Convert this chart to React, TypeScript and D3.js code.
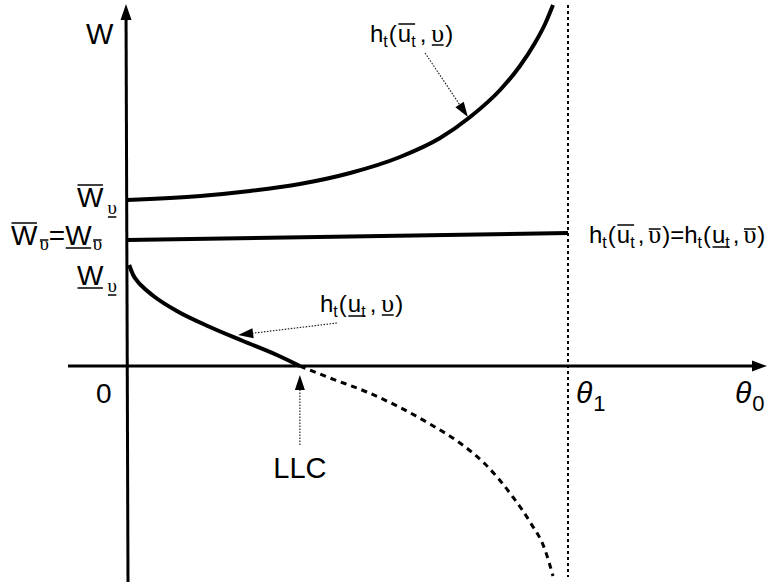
import React, { useEffect, useRef } from "react";
import * as d3 from "d3";

// Upper branch h_t(ū_t, υ̲): rises steeply as θ approaches θ1
const thetaUpper = [0, 0.166, 0.279, 0.392, 0.506, 0.619, 0.71, 0.778, 0.846, 0.891, 0.925, 0.948, 0.966];
const wUpper = [1.66, 1.7, 1.75, 1.82, 1.93, 2.09, 2.28, 2.49, 2.76, 3.0, 3.23, 3.42, 3.61];

// Flat branch h_t(ū_t, ῡ) = h_t(u̲_t, ῡ)
const thetaMid = [0, 1];
const wMid = [1.26, 1.33];

// Lower branch h_t(u̲_t, υ̲) down to the limited-liability constraint
const thetaLow = [0.005, 0.014, 0.025, 0.036, 0.063, 0.113, 0.188, 0.263, 0.34, 0.392];
const wLow = [1.01, 0.91, 0.84, 0.79, 0.69, 0.55, 0.39, 0.25, 0.11, 0];

// Continuation of the lower branch below zero (dashed)
const thetaLowExt = [0.392, 0.46, 0.544, 0.687, 0.755, 0.812, 0.875, 0.914, 0.948, 0.966];
const wLowExt = [0, -0.12, -0.26, -0.58, -0.77, -0.98, -1.31, -1.56, -1.84, -2.1];

const THETA1 = 1;

const SANS = "'Liberation Sans', Arial, Helvetica, sans-serif";
const SERIF = "'Liberation Serif', 'Times New Roman', serif";

type Piece = {
  t: string;
  size: number;
  serif?: boolean;
  italic?: boolean;
  dy?: number;
  gap?: number;
  bar?: { key: string; off: number };
};

function mathLabel(
  g: d3.Selection<SVGGElement, unknown, null, undefined>,
  x: number,
  y: number,
  pieces: Piece[]
) {
  let cx = x;
  const bars: Record<string, { x0: number; x1: number; y: number }> = {};
  pieces.forEach((p) => {
    cx += p.gap || 0;
    const t = g
      .append("text")
      .attr("x", cx)
      .attr("y", y + (p.dy || 0))
      .attr("font-family", p.serif ? SERIF : SANS)
      .attr("font-size", p.size)
      .attr("font-style", p.italic ? "italic" : "normal")
      .attr("fill", "#000")
      .text(p.t);
    const w = (t.node() as SVGTextElement).getComputedTextLength();
    if (p.bar) {
      const b = bars[p.bar.key];
      if (b) {
        b.x1 = cx + w;
      } else {
        bars[p.bar.key] = { x0: cx, x1: cx + w, y: y + p.bar.off };
      }
    }
    cx += w;
  });
  Object.values(bars).forEach((b) => {
    g.append("line")
      .attr("x1", b.x0 + 0.5)
      .attr("x2", b.x1 - 0.5)
      .attr("y1", b.y)
      .attr("y2", b.y)
      .attr("stroke", "#000")
      .attr("stroke-width", 1.5);
  });
}

function arrow(
  g: d3.Selection<SVGGElement, unknown, null, undefined>,
  from: [number, number],
  to: [number, number],
  opts: { len: number; hw: number; width: number; dash?: string; color?: string }
) {
  const dx = to[0] - from[0];
  const dy = to[1] - from[1];
  const d = Math.hypot(dx, dy);
  const ux = dx / d;
  const uy = dy / d;
  const bx = to[0] - ux * opts.len;
  const by = to[1] - uy * opts.len;
  g.append("line")
    .attr("x1", from[0])
    .attr("y1", from[1])
    .attr("x2", bx)
    .attr("y2", by)
    .attr("stroke", opts.color || "#000")
    .attr("stroke-width", opts.width)
    .attr("stroke-dasharray", opts.dash || null);
  g.append("path")
    .attr(
      "d",
      `M${to[0]},${to[1]}L${bx - uy * opts.hw},${by + ux * opts.hw}L${bx + uy * opts.hw},${by - ux * opts.hw}Z`
    )
    .attr("fill", "#000");
}

export default function App() {
  const ref = useRef<SVGSVGElement | null>(null);

  useEffect(() => {
    const svg = d3.select(ref.current);
    svg.selectAll("*").remove();
    const g = svg.append("g");

    const x = d3.scaleLinear().domain([0, 1]).range([127, 568]);
    const y = d3.scaleLinear().domain([0, 1]).range([366, 266]);

    const line = (xs: number[], ws: number[]) =>
      d3
        .line<number>()
        .x((_, i) => x(xs[i]))
        .y((w) => y(w))
        .curve(d3.curveMonotoneX)(ws) as string;

    // θ1 boundary
    g.append("line")
      .attr("x1", x(THETA1))
      .attr("x2", x(THETA1))
      .attr("y1", 5)
      .attr("y2", 577)
      .attr("stroke", "#000")
      .attr("stroke-width", 2)
      .attr("stroke-dasharray", "3,3");

    // axes
    arrow(g, [68, y(0)], [767, y(0)], { len: 15, hw: 5.5, width: 3 });
    arrow(g, [128, 582], [126, 4], { len: 16, hw: 5.5, width: 3 });

    // curves
    g.append("path")
      .attr("d", line(thetaUpper, wUpper))
      .attr("fill", "none")
      .attr("stroke", "#000")
      .attr("stroke-width", 4);
    g.append("path")
      .attr("d", line(thetaMid, wMid))
      .attr("fill", "none")
      .attr("stroke", "#000")
      .attr("stroke-width", 4);
    g.append("path")
      .attr("d", line(thetaLow, wLow))
      .attr("fill", "none")
      .attr("stroke", "#000")
      .attr("stroke-width", 4);
    g.append("path")
      .attr("d", line(thetaLowExt, wLowExt))
      .attr("fill", "none")
      .attr("stroke", "#000")
      .attr("stroke-width", 3)
      .attr("stroke-dasharray", "6,5");

    // pointer arrows
    const thin = { len: 15, hw: 5, width: 1.2, dash: "1.5,1.5", color: "#222" };
    arrow(g, [x(0.676), y(3.13)], [x(0.773), y(2.49)], thin);
    arrow(g, [x(0.476), y(0.43)], [x(0.252), y(0.31)], thin);
    arrow(g, [x(0.392), y(-0.79)], [x(0.392), y(-0.09)], thin);

    // axis labels
    mathLabel(g, 86, 44, [{ t: "W", size: 29 }]);
    mathLabel(g, 96, 403, [{ t: "0", size: 28 }]);
    mathLabel(g, 576, 403, [
      { t: "θ", size: 30, italic: true },
      { t: "1", size: 22, dy: 8, gap: 1 },
    ]);
    mathLabel(g, 735, 403, [
      { t: "θ", size: 30, italic: true },
      { t: "0", size: 22, dy: 8, gap: 1 },
    ]);
    g.append("text")
      .attr("x", x(0.392))
      .attr("y", 478)
      .attr("text-anchor", "middle")
      .attr("font-family", SANS)
      .attr("font-size", 29)
      .text("LLC");

    // W-axis level labels
    const WS = 28;
    const US = 19;
    mathLabel(g, 77, 207, [
      { t: "W", size: WS, bar: { key: "a", off: -22 } },
      { t: "υ", size: US, serif: true, dy: 7, gap: 4, bar: { key: "b", off: 10 } },
    ]);
    mathLabel(g, 11, 245, [
      { t: "W", size: WS, bar: { key: "a", off: -22 } },
      { t: "υ", size: US, serif: true, dy: 5, gap: 2, bar: { key: "b", off: -5 } },
      { t: "=", size: WS, gap: 0 },
      { t: "W", size: WS, gap: 0, bar: { key: "c", off: 3 } },
      { t: "υ", size: US, serif: true, dy: 5, gap: 1, bar: { key: "d", off: -5 } },
    ]);
    mathLabel(g, 77, 285, [
      { t: "W", size: WS, bar: { key: "a", off: 3 } },
      { t: "υ", size: US, serif: true, dy: 7, gap: 4, bar: { key: "b", off: 10 } },
    ]);

    // curve labels
    const S = 24;
    const T = 16;
    const SU = 26;
    mathLabel(g, 370, 42, [
      { t: "h", size: S },
      { t: "t", size: T, dy: 5 },
      { t: "(", size: S, gap: 1 },
      { t: "u", size: S, gap: 1, bar: { key: "a", off: -18 } },
      { t: "t", size: T, dy: 5, bar: { key: "a", off: -18 } },
      { t: ",", size: S, gap: 4 },
      { t: "υ", size: SU, serif: true, gap: 5, bar: { key: "b", off: 3 } },
      { t: ")", size: S, gap: 1 },
    ]);
    mathLabel(g, 589, 243, [
      { t: "h", size: S },
      { t: "t", size: T, dy: 5 },
      { t: "(", size: S, gap: 1 },
      { t: "u", size: S, gap: 1, bar: { key: "a", off: -18 } },
      { t: "t", size: T, dy: 5, bar: { key: "a", off: -18 } },
      { t: ",", size: S, gap: 3 },
      { t: "υ", size: SU, serif: true, gap: 4, bar: { key: "b", off: -14 } },
      { t: ")", size: S, gap: 1 },
      { t: "=", size: S },
      { t: "h", size: S },
      { t: "t", size: T, dy: 5 },
      { t: "(", size: S, gap: 1 },
      { t: "u", size: S, gap: 1, bar: { key: "c", off: 4 } },
      { t: "t", size: T, dy: 5, bar: { key: "c", off: 4 } },
      { t: ",", size: S, gap: 3 },
      { t: "υ", size: SU, serif: true, gap: 4, bar: { key: "d", off: -14 } },
      { t: ")", size: S, gap: 1 },
    ]);
    mathLabel(g, 320, 312, [
      { t: "h", size: S },
      { t: "t", size: T, dy: 5 },
      { t: "(", size: S, gap: 1 },
      { t: "u", size: S, gap: 1, bar: { key: "a", off: 4 } },
      { t: "t", size: T, dy: 5, bar: { key: "a", off: 4 } },
      { t: ",", size: S, gap: 4 },
      { t: "υ", size: SU, serif: true, gap: 5, bar: { key: "b", off: 3 } },
      { t: ")", size: S, gap: 1 },
    ]);
  }, []);

  return (
    <svg
      ref={ref}
      width={768}
      height={587}
      style={{ position: "absolute", left: 0, top: 0, background: "#fff", display: "block" }}
    />
  );
}
